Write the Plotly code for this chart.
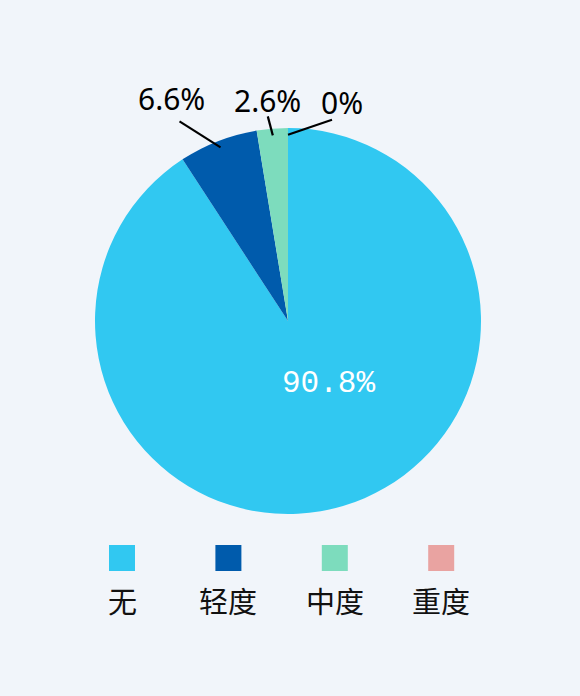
import math
import plotly.graph_objects as go

# ---- data ----
categories = ["无", "轻度", "中度", "重度"]
values = [90.8, 6.6, 2.6, 0]
labels_text = ["90.8%", "6.6%", "2.6%", "0%"]
colors = ["#31c8f1", "#005bac", "#7ddcbd", "#e9a3a1"]

# ---- layout constants (pixels) ----
W, H = 580, 696
CX, CY, R = 288, 321, 193
BG = "#f1f5fa"

def px(x):
    return x / W

def py(y):
    return 1 - y / H

fig = go.Figure()
fig.add_trace(go.Pie(
    labels=categories,
    values=values,
    marker=dict(colors=colors, line=dict(width=0)),
    sort=False,
    direction="clockwise",
    rotation=0,
    textinfo="none",
    hoverinfo="none",
    showlegend=False,
    domain=dict(x=[px(CX - R), px(CX + R)], y=[py(CY + R), py(CY - R)]),
))

total = sum(values)
inside_offset = (40, 62)
outside_style = {
    1: ((-41, -26), (-8, -23)),
    2: ((-5, -19), (0, -16)),
    3: ((44, -15), (10, -17)),
}

annotations = []
shapes = []
cum = 0.0
for i, v in enumerate(values):
    mid = 2 * math.pi * (cum + v / 2) / total
    cum += v
    if i == 0:
        annotations.append(dict(
            x=px(CX + inside_offset[0]), y=py(CY + inside_offset[1]),
            xref="paper", yref="paper", showarrow=False,
            xanchor="center", yanchor="middle",
            text=labels_text[i],
            font=dict(family="Liberation Mono, monospace", size=31, color="white"),
        ))
        continue
    hx = CX + 0.965 * R * math.sin(mid)
    hy = CY - 0.965 * R * math.cos(mid)
    (ldx, ldy), (tdx, tdy) = outside_style[i]
    tx, ty = hx + ldx, hy + ldy
    shapes.append(dict(
        type="line", xref="paper", yref="paper",
        x0=px(hx), y0=py(hy), x1=px(tx), y1=py(ty),
        line=dict(color="#000000", width=2.2),
    ))
    annotations.append(dict(
        x=px(tx + tdx), y=py(ty + tdy),
        xref="paper", yref="paper", showarrow=False,
        xanchor="center", yanchor="middle",
        text=labels_text[i],
        font=dict(family="Noto Sans, sans-serif", size=30, color="#000000"),
    ))

# ---- custom legend: swatch above label ----
leg_x0, leg_dx = 122, 106.4
sq = 26
sq_top = 545
for i, c in enumerate(categories):
    cx = leg_x0 + i * leg_dx
    shapes.append(dict(
        type="rect", xref="paper", yref="paper",
        x0=px(cx - sq / 2), x1=px(cx + sq / 2),
        y0=py(sq_top + sq), y1=py(sq_top),
        fillcolor=colors[i], line=dict(width=0),
    ))
    annotations.append(dict(
        x=px(cx), y=py(600),
        xref="paper", yref="paper", showarrow=False,
        xanchor="center", yanchor="middle",
        text=c,
        font=dict(family="Noto Sans CJK SC, sans-serif", size=29, color="#111111"),
    ))

fig.update_layout(
    width=W, height=H,
    margin=dict(l=0, r=0, t=0, b=0),
    paper_bgcolor=BG, plot_bgcolor=BG,
    shapes=shapes,
    annotations=annotations,
)

fig.write_html(
    "out.html",
    config={"displayModeBar": False},
    post_script="document.body.style.margin='0';document.body.style.background='%s';" % BG,
)
